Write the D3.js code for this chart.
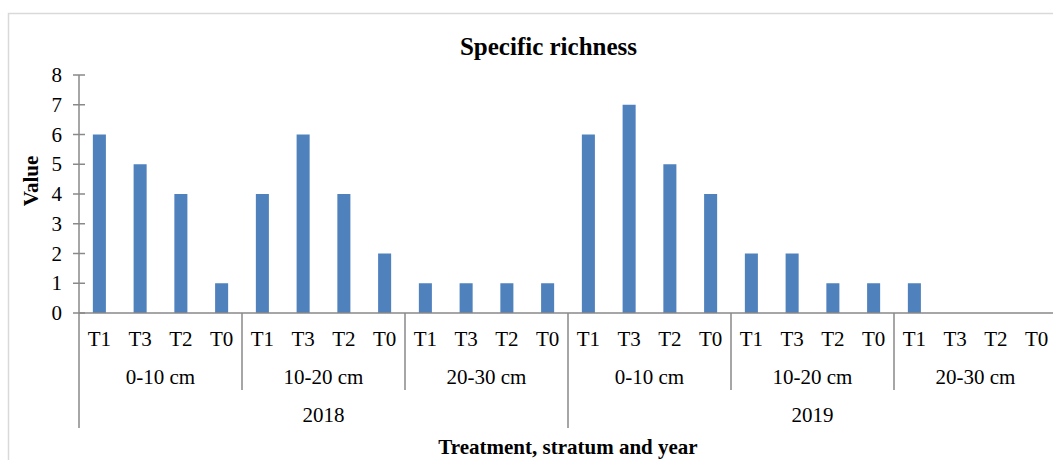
<!DOCTYPE html>
<html><head><meta charset="utf-8">
<script src="https://cdn.jsdelivr.net/npm/d3@7"></script>
<style>body{margin:0;background:#fff}svg{display:block;font-family:"Liberation Serif","Times New Roman",serif}</style>
</head><body><svg id="c" width="1053" height="460"></svg>
<script>
const years = ["2018", "2019"];
const strata = ["0-10 cm", "10-20 cm", "20-30 cm"];
const treatments = ["T1", "T3", "T2", "T0"];
const values = [6, 5, 4, 1, 4, 6, 4, 2, 1, 1, 1, 1, 6, 7, 5, 4, 2, 2, 1, 1, 1, 0, 0, 0];
const yTicks = [0, 1, 2, 3, 4, 5, 6, 7, 8];

(function () {
const svg = d3.select("#c");
const pL = 79, pR = 1057, pT = 75, pB = 313;
const axisColor = "#898989";
const fs = 21;

svg.append("rect").attr("x", 8.5).attr("y", 13.5).attr("width", 1100).attr("height", 500)
  .attr("fill", "none").attr("stroke", "#d9d9d9").attr("stroke-width", 1.5);

const x = d3.scaleBand().domain(d3.range(values.length)).range([pL, pR]).padding(0);
const y = d3.scaleLinear().domain([0, 8]).range([pB, pT]);
const bw = x.bandwidth() * 0.32;

svg.append("g").selectAll("rect").data(values).join("rect")
  .attr("x", (d, i) => x(i) + x.bandwidth() / 2 - bw / 2)
  .attr("y", d => y(d)).attr("width", bw).attr("height", d => y(0) - y(d))
  .attr("fill", "#4f81bd");

// y axis
const ya = svg.append("g");
ya.append("line").attr("x1", pL).attr("x2", pL).attr("y1", y(8)).attr("y2", 428)
  .attr("stroke", axisColor).attr("stroke-width", 1.5);
ya.selectAll("line.t").data(yTicks).join("line").attr("class", "t")
  .attr("x1", pL - 6).attr("x2", pL + 6).attr("y1", d => y(d)).attr("y2", d => y(d))
  .attr("stroke", axisColor).attr("stroke-width", 1.5);
ya.selectAll("text").data(yTicks).join("text")
  .attr("x", 62).attr("y", d => y(d)).attr("dy", "0.34em").attr("text-anchor", "end")
  .attr("font-size", fs).text(d => d);

// x axis
svg.append("line").attr("x1", pL).attr("x2", pR).attr("y1", y(0)).attr("y2", y(0))
  .attr("stroke", axisColor).attr("stroke-width", 1.5);

const cats = [];
years.forEach(yr => strata.forEach(s => treatments.forEach(t => cats.push({yr, s, t}))));
svg.append("g").selectAll("text").data(cats).join("text")
  .attr("x", (d, i) => x(i) + x.bandwidth() / 2).attr("y", 346)
  .attr("text-anchor", "middle").attr("font-size", fs).text(d => d.t);

const step = x.step();
const groups = [];
years.forEach((yr, yi) => strata.forEach((s, si) => groups.push({yr, s, idx: yi * 3 + si})));
svg.append("g").selectAll("text").data(groups).join("text")
  .attr("x", d => pL + (d.idx * 4 + 2) * step).attr("y", 384)
  .attr("text-anchor", "middle").attr("font-size", fs).text(d => d.s);

// separators
const seps = d3.range(1, groups.length);
svg.append("g").selectAll("line").data(seps).join("line")
  .attr("x1", d => pL + d * 4 * step).attr("x2", d => pL + d * 4 * step)
  .attr("y1", y(0)).attr("y2", d => d % 3 === 0 ? 428 : 390)
  .attr("stroke", axisColor).attr("stroke-width", 1.5);

svg.append("g").selectAll("text").data(years).join("text")
  .attr("x", (d, i) => pL + (i * 12 + 6) * step).attr("y", 422)
  .attr("text-anchor", "middle").attr("font-size", fs).text(d => d);

// titles
svg.append("text").attr("x", 548.5).attr("y", 55).attr("text-anchor", "middle")
  .attr("font-size", 25).attr("font-weight", "bold").text("Specific richness");
svg.append("text").attr("x", (pL + pR) / 2).attr("y", 454).attr("text-anchor", "middle")
  .attr("font-size", 21).attr("font-weight", "bold").text("Treatment, stratum and year");
svg.append("text").attr("transform", "translate(38,181) rotate(-90)")
  .attr("text-anchor", "middle").attr("font-size", 21).attr("font-weight", "bold").text("Value");
})();
</script></body></html>
